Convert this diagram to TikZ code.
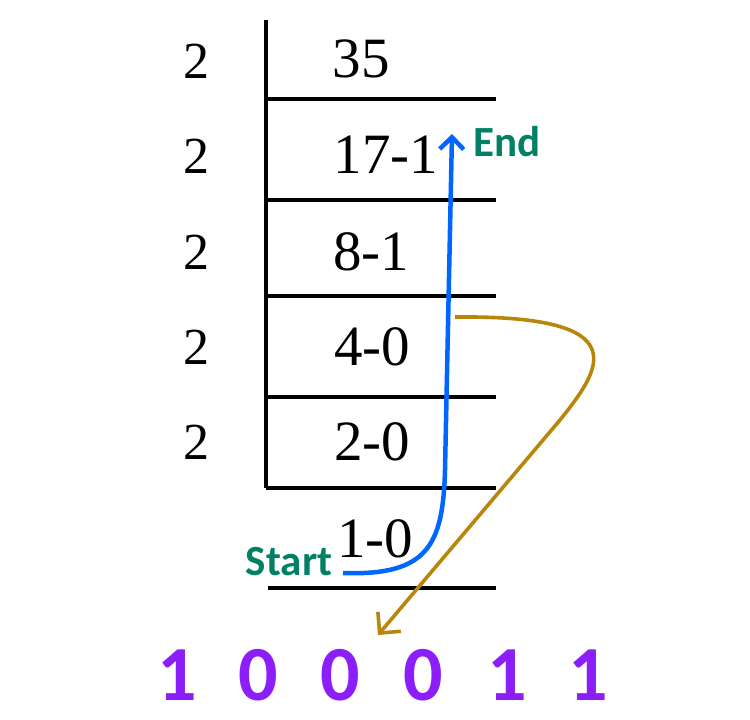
\documentclass[tikz,border=0pt]{standalone}
\usepackage{fontspec}
\setmainfont{Liberation Serif}
\newfontfamily\calfont{Carlito}
\usetikzlibrary{arrows.meta}
\definecolor{arrblue}{RGB}{0,102,255}
\definecolor{lblgreen}{RGB}{0,128,100}
\definecolor{arrbrown}{RGB}{184,134,11}
\definecolor{bitpurple}{RGB}{140,30,250}
\tikzset{
  rule/.style={line width=4.6pt,black},
  divisor/.style={font=\fontsize{52}{52}\selectfont,inner sep=0pt},
  quot/.style={font=\fontsize{57}{57}\selectfont,inner sep=0pt},
  lbl/.style={font=\calfont\bfseries\fontsize{43}{43}\selectfont,text=lblgreen,inner sep=0pt},
  bit/.style={font=\calfont\bfseries\fontsize{78}{78}\selectfont,text=bitpurple,inner sep=0pt},
  bluearrow/.style={draw=arrblue,line width=4.5pt,-{Straight Barb[length=12pt,width=24pt,line width=4.5pt]}},
  brownarrow/.style={draw=arrbrown,line width=3.6pt,-{Straight Barb[length=15pt,width=30pt,line width=3.6pt]}},
}
\begin{document}
\begin{tikzpicture}[x=1pt,y=-1pt]
\useasboundingbox (0,0) rectangle (750,720);
% rules
\coordinate (vtop) at (266,20);
\coordinate (vbot) at (266,488);
\draw[rule] (vtop) -- (vbot);
\foreach \yy/\nm in {99/a,200/b,296/c,397/d,488/e}{
  \coordinate (l\nm) at (266,\yy);
  \coordinate (r\nm) at (496,\yy);
  \draw[rule] (l\nm) -- (r\nm);
}
\coordinate (lf) at (268,588);
\coordinate (rf) at (496,588);
\draw[rule] (lf) -- (rf);
% divisors
\node[divisor] (d1) at (196,61) {2};
\node[divisor] (d2) at (196,156) {2};
\node[divisor] (d3) at (196,252) {2};
\node[divisor] (d4) at (196,347) {2};
\node[divisor] (d5) at (196,442) {2};
% quotients
\node[quot] (q1) at (361,59) {35};
\node[quot] (q2) at (386,155) {17-1};
\node[quot] (q3) at (371,252) {8-1};
\node[quot] (q4) at (372,347) {4-0};
\node[quot] (q5) at (372,442) {2-0};
\node[quot] (q6) at (375,539) {1-0};
% labels
\node[lbl] (start) at (289,562) {Start};
\node[lbl] (end) at (507,142) {End};
% arrows
\coordinate (bs) at (343,573);
\coordinate (be) at (452,134);
\draw[bluearrow] (bs) .. controls (428,576) and (443,545) .. (445,470) -- (be);
\coordinate (os) at (455,317);
\coordinate (oe) at (378,635);
\draw[brownarrow] (os) .. controls (640,315) and (600,370) .. (560,420) -- (oe);
% bits
\node[bit] (b1) at (177,675) {1};
\node[bit] (b2) at (258,675) {0};
\node[bit] (b3) at (340,675) {0};
\node[bit] (b4) at (423,675) {0};
\node[bit] (b5) at (507,675) {1};
\node[bit] (b6) at (588,675) {1};
\end{tikzpicture}
\end{document}
